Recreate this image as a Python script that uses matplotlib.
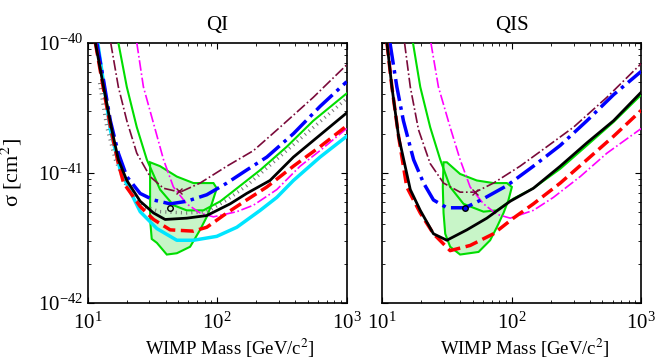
import matplotlib
matplotlib.use("Agg")
import matplotlib.pyplot as plt
import numpy as np

plt.rcParams['font.family'] = 'serif'
plt.rcParams['font.serif'] = ['Liberation Serif', 'DejaVu Serif']
plt.rcParams['mathtext.fontset'] = 'stix'

# ---- QI panel (mass in GeV, log10 sigma in cm^2) ----
qi_black_m = [11.5, 13.3, 15.4, 17.3, 20.1, 25.5, 32.3, 39.7, 58.3, 83.2, 126, 169, 256, 388, 623, 1000]
qi_black_s = [-40.0, -40.34, -40.67, -40.90, -41.06, -41.22, -41.31, -41.36, -41.35, -41.33, -41.24, -41.16, -41.06, -40.88, -40.71, -40.54]
qi_red_m = [11.5, 13.3, 15.4, 17.3, 19.0, 25.5, 32.3, 43.4, 65.7, 83.2, 119, 169, 242, 388, 623, 1000]
qi_red_s = [-40.0, -40.36, -40.70, -40.93, -41.08, -41.26, -41.36, -41.44, -41.45, -41.42, -41.31, -41.21, -41.11, -40.95, -40.80, -40.64]
qi_cyan_m = [12.0, 13.3, 15.0, 17.9, 22.0, 25.5, 34.3, 48.9, 65.7, 99.4, 142, 215, 289, 388, 623, 1000]
qi_cyan_s = [-40.0, -40.31, -40.67, -40.98, -41.17, -41.30, -41.43, -41.52, -41.52, -41.49, -41.42, -41.29, -41.19, -41.06, -40.88, -40.72]
qi_blue_m = [11.8, 13.3, 15.0, 17.3, 20.1, 25.5, 32.3, 43.4, 58.3, 83.2, 119, 169, 242, 388, 623, 1000]
qi_blue_s = [-40.0, -40.29, -40.60, -40.85, -41.03, -41.16, -41.21, -41.24, -41.22, -41.17, -41.08, -40.98, -40.88, -40.70, -40.49, -40.30]
qi_maroon_m = [15.1, 17.3, 20.1, 24.0, 30.4, 38.6, 51.8, 73.9, 119, 191, 306, 553, 1000]
qi_maroon_s = [-40.0, -40.34, -40.60, -40.85, -41.03, -41.12, -41.15, -41.08, -40.95, -40.83, -40.65, -40.42, -40.17]
qi_magenta_m = [24.0, 27.0, 32.3, 38.6, 46.0, 58.3, 73.9, 93.7, 142, 191, 289, 437, 623, 1000]
qi_magenta_s = [-40.0, -40.34, -40.62, -40.90, -41.11, -41.24, -41.31, -41.34, -41.30, -41.25, -41.13, -40.95, -40.83, -40.66]
qi_green_m = [17.3, 20.1, 24.0, 28.7, 36.3, 46.0, 58.3, 78.4, 106, 151, 215, 345, 553, 1000]
qi_green_s = [-40.0, -40.34, -40.65, -40.90, -41.13, -41.25, -41.29, -41.29, -41.22, -41.10, -40.98, -40.80, -40.60, -40.39]
qi_gray_m = [12.4, 14.1, 16.4, 20.1, 27.0, 36.3, 58.3, 83.2, 119, 169, 272, 437, 1000]
qi_gray_s = [-40.31, -40.65, -40.90, -41.11, -41.26, -41.30, -41.31, -41.30, -41.21, -41.10, -40.92, -40.74, -40.43]
qi_region_m = [30.4, 36.3, 48.9, 65.7, 93.7, 99.4, 91.0, 83.2, 73.9, 61.9, 48.9, 40.9, 34.3, 31.3, 30.4, 30.4]
qi_region_s = [-40.92, -40.95, -41.03, -41.08, -41.08, -41.12, -41.24, -41.34, -41.44, -41.57, -41.62, -41.63, -41.54, -41.51, -41.36, -41.11]
qi_best = (43.4, -41.27)
qi_cross = (51.1, -41.14)

# ---- QIS panel ----
qis_black_m = [10.9, 11.9, 13.4, 16.5, 19.7, 24.9, 31.6, 45.1, 64.3, 97.4, 147, 237, 381, 611, 1000]
qis_black_s = [-40.0, -40.34, -40.72, -41.13, -41.29, -41.47, -41.52, -41.44, -41.35, -41.22, -41.12, -40.95, -40.77, -40.60, -40.38]
qis_red_m = [10.9, 11.9, 13.4, 15.5, 19.7, 24.9, 33.5, 47.8, 72.4, 103, 147, 237, 381, 611, 1000]
qis_red_s = [-40.0, -40.34, -40.72, -41.11, -41.31, -41.47, -41.60, -41.56, -41.47, -41.35, -41.24, -41.08, -40.90, -40.72, -40.52]
qis_blue_m = [11.5, 13.0, 14.6, 17.5, 20.9, 24.9, 31.6, 43.8, 60.6, 91.8, 147, 237, 381, 611, 1000]
qis_blue_s = [-40.0, -40.34, -40.60, -40.90, -41.08, -41.21, -41.27, -41.27, -41.20, -41.10, -40.95, -40.79, -40.60, -40.40, -40.22]
qis_maroon_m = [14.9, 16.5, 19.1, 23.5, 29.8, 40.0, 52.3, 72.4, 116, 187, 300, 543, 1000]
qis_maroon_s = [-40.0, -40.34, -40.67, -40.93, -41.08, -41.15, -41.15, -41.08, -40.95, -40.80, -40.65, -40.42, -40.16]
qis_magenta_m = [23.8, 27.2, 33.5, 40.0, 47.8, 60.6, 76.8, 97.4, 147, 210, 338, 543, 1000]
qis_magenta_s = [-40.0, -40.34, -40.65, -40.90, -41.11, -41.24, -41.32, -41.35, -41.29, -41.19, -41.03, -40.85, -40.66]
qis_green_m = [17.3, 19.7, 23.5, 28.1, 33.5, 42.5, 60.6, 76.8, 103, 147, 237, 381, 611, 1000]
qis_green_s = [-40.0, -40.34, -40.65, -40.90, -41.11, -41.24, -41.30, -41.29, -41.20, -41.12, -40.97, -40.79, -40.61, -40.40]
qis_region_m = [29.8, 31.6, 40.0, 53.8, 72.4, 91.8, 100.3, 94.5, 86.5, 76.8, 68.2, 55.5, 40.0, 33.5, 30.7, 29.8, 29.4]
qis_region_s = [-40.92, -40.92, -41.01, -41.06, -41.08, -41.08, -41.11, -41.21, -41.31, -41.42, -41.52, -41.61, -41.63, -41.57, -41.47, -41.31, -41.11]
qis_best = (43.8, -41.27)
qis_cross = (52.3, -41.15)

titles = ['QI', 'QIS']

fig = plt.figure(figsize=(6.68, 3.62), dpi=100)
ax1 = fig.add_axes([0.131, 0.164, 0.388, 0.718])
ax2 = fig.add_axes([0.572, 0.164, 0.388, 0.718])

green = '#00dd00'
fill_c = '#c8f5c8'
maroon = '#7a0a3a'


def lg(s):
    return 10.0 ** np.array(s)


# QI
ax1.fill(qi_region_m, lg(qi_region_s), facecolor=fill_c, edgecolor=green, lw=1.5, zorder=1)
ax1.plot(qi_gray_m, lg(qi_gray_s), color='#777777', lw=2.5, ls=(0, (0.3, 1.2)), zorder=2)
ax1.plot(qi_green_m, lg(qi_green_s), color=green, lw=1.5, zorder=3)
ax1.plot(qi_maroon_m, lg(qi_maroon_s), color=maroon, lw=1.2, ls='-.', zorder=3)
ax1.plot(qi_magenta_m, lg(qi_magenta_s), color='#ff00ff', lw=1.2, ls='-.', zorder=3)
ax1.plot(qi_cyan_m, lg(qi_cyan_s), color='#00e5ff', lw=2.5, zorder=3)
ax1.plot(qi_blue_m, lg(qi_blue_s), color='#0000ff', lw=2.5, ls='-.', zorder=4)
ax1.plot(qi_red_m, lg(qi_red_s), color='#ff0000', lw=2.5, ls='--', zorder=4)
ax1.plot(qi_black_m, lg(qi_black_s), color='black', lw=2, zorder=5)
ax1.plot(qi_best[0], 10 ** qi_best[1], 'o', mfc='none', mec='black', ms=4, zorder=6)
ax1.plot(qi_cross[0], 10 ** qi_cross[1], 'x', color=maroon, ms=4, zorder=6)

# QIS
ax2.fill(qis_region_m, lg(qis_region_s), facecolor=fill_c, edgecolor=green, lw=1.5, zorder=1)
ax2.plot(qis_green_m, lg(qis_green_s), color=green, lw=1.5, zorder=3)
ax2.plot(qis_maroon_m, lg(qis_maroon_s), color=maroon, lw=1.2, ls='-.', zorder=3)
ax2.plot(qis_magenta_m, lg(qis_magenta_s), color='#ff00ff', lw=1.2, ls='-.', zorder=3)
ax2.plot(qis_blue_m, lg(qis_blue_s), color='#0000ff', lw=2.5, ls='-.', zorder=4)
ax2.plot(qis_red_m, lg(qis_red_s), color='#ff0000', lw=2.5, ls='--', zorder=4)
ax2.plot(qis_black_m, lg(qis_black_s), color='black', lw=2, zorder=5)
ax2.plot(qis_best[0], 10 ** qis_best[1], 'o', mfc='#0000ff', mec='black', ms=4, zorder=6)
ax2.plot(qis_cross[0], 10 ** qis_cross[1], 'x', color=maroon, ms=4, zorder=6)

for ax, t in zip([ax1, ax2], titles):
    ax.set_xscale('log')
    ax.set_yscale('log')
    ax.set_xlim(10, 1000)
    ax.set_ylim(1e-42, 1e-40)
    ax.set_title(t, fontsize=15, pad=9)
    ax.set_xlabel('WIMP Mass [GeV/c$^2$]', fontsize=13.5)
    ax.xaxis.set_label_coords(0.55, -0.13)
    ax.tick_params(which='both', direction='in', top=True, right=True, labelsize=15)
    ax.tick_params(axis='x', which='major', pad=7)
    ax.tick_params(axis='y', which='major', pad=3)
    ax.tick_params(which='major', length=4)
    ax.tick_params(which='minor', length=2)
    for sp in ax.spines.values():
        sp.set_linewidth(1.2)

ax1.set_ylabel('σ [cm$^2$]', fontsize=16, labelpad=0)
ax1.yaxis.set_label_coords(-0.245, 0.5)
ax2.tick_params(labelleft=False)

fig.savefig('out.png', dpi=100)
